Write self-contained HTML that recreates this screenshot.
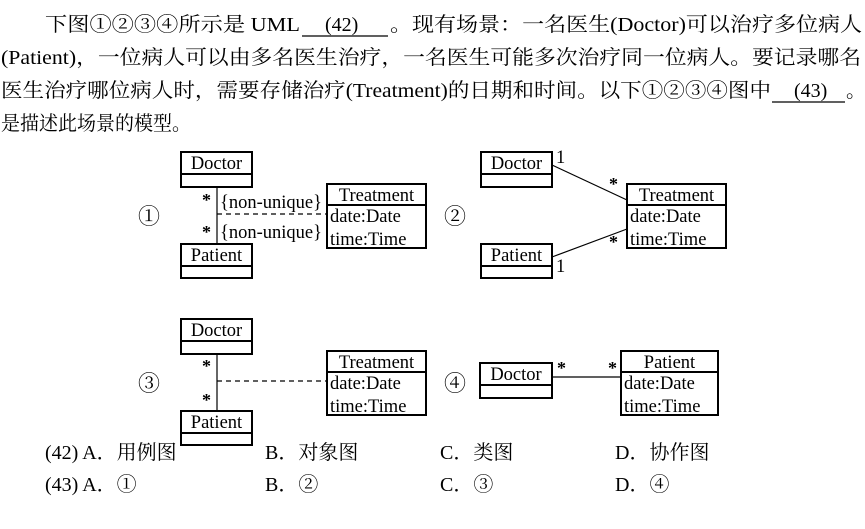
<!DOCTYPE html>
<html><head><meta charset="utf-8"><style>
html,body{margin:0;padding:0;background:#fff;}
svg{display:block;}
.t{font-family:"Liberation Serif","Noto Serif CJK SC",serif;font-size:20px;fill:#000;}
.d{font-family:"Liberation Serif","Noto Serif CJK SC",serif;font-size:18.5px;fill:#000;}
.s{font-weight:bold;font-size:18px;}
.c{font-size:22px;}
</style></head><body>
<svg width="865" height="529" viewBox="0 0 865 529" xmlns="http://www.w3.org/2000/svg">
<g class="t">
<text x="45" y="31" textLength="255" lengthAdjust="spacingAndGlyphs">下图①②③④所示是 UML</text>
<text x="325" y="31">(42)</text>
<text x="390" y="31" textLength="472" lengthAdjust="spacingAndGlyphs">。现有场景：一名医生(Doctor)可以治疗多位病人</text>
<text x="1" y="64" textLength="860" lengthAdjust="spacingAndGlyphs">(Patient)，一位病人可以由多名医生治疗，一名医生可能多次治疗同一位病人。要记录哪名</text>
<text x="1" y="97" textLength="770" lengthAdjust="spacingAndGlyphs">医生治疗哪位病人时，需要存储治疗(Treatment)的日期和时间。以下①②③④图中</text>
<text x="794" y="97">(43)</text>
<text x="846" y="97">。</text>
<text x="1" y="130" textLength="190" lengthAdjust="spacingAndGlyphs">是描述此场景的模型。</text>
<text x="45" y="459">(42) A．用例图</text>
<text x="265" y="459">B．对象图</text>
<text x="440" y="459">C．类图</text>
<text x="615" y="459">D．协作图</text>
<text x="45" y="491">(43) A．①</text>
<text x="265" y="491">B．②</text>
<text x="440" y="491">C．③</text>
<text x="615" y="491">D．④</text>
</g>
<g stroke="#000" stroke-width="1.3">
<line x1="302" y1="36" x2="388" y2="36"/>
<line x1="772" y1="102" x2="845" y2="102"/>
</g>
<g fill="none" stroke="#000" stroke-width="2">
<rect x="181" y="152" width="71" height="35"/><line x1="181" y1="174" x2="252" y2="174"/>
<rect x="181" y="244" width="71" height="34"/><line x1="181" y1="266" x2="252" y2="266"/>
<rect x="327" y="184" width="99" height="64"/><line x1="327" y1="205" x2="426" y2="205"/>
<rect x="481" y="152" width="71" height="35"/><line x1="481" y1="174" x2="552" y2="174"/>
<rect x="481" y="244" width="71" height="34"/><line x1="481" y1="266" x2="552" y2="266"/>
<rect x="627" y="184" width="99" height="64"/><line x1="627" y1="205" x2="726" y2="205"/>
<rect x="181" y="319" width="71" height="35"/><line x1="181" y1="341" x2="252" y2="341"/>
<rect x="181" y="411" width="71" height="34"/><line x1="181" y1="433" x2="252" y2="433"/>
<rect x="327" y="351" width="99" height="64"/><line x1="327" y1="372" x2="426" y2="372"/>
<rect x="480" y="363" width="72" height="35"/><line x1="480" y1="385" x2="552" y2="385"/>
<rect x="621" y="351" width="97" height="64"/><line x1="621" y1="372" x2="718" y2="372"/>
</g>
<g stroke="#000" stroke-width="1.2" fill="none">
<line x1="217" y1="187" x2="217" y2="244"/>
<line x1="217" y1="214" x2="327" y2="214" stroke-dasharray="5,4"/>
<line x1="552" y1="165" x2="627" y2="200"/>
<line x1="552" y1="257" x2="627" y2="229"/>
<line x1="217" y1="354" x2="217" y2="411"/>
<line x1="217" y1="381" x2="327" y2="381" stroke-dasharray="5,4"/>
<line x1="552" y1="377" x2="621" y2="377"/>
</g>
<g class="d">
<text x="216.5" y="169" text-anchor="middle">Doctor</text>
<text x="216.5" y="261" text-anchor="middle">Patient</text>
<text x="376.5" y="201" text-anchor="middle">Treatment</text>
<text x="330" y="222">date:Date</text>
<text x="330" y="245">time:Time</text>
<text class="s" x="202" y="206">*</text><text class="s" x="202" y="238">*</text>
<text x="220" y="208">{non-unique}</text>
<text x="220" y="238">{non-unique}</text>
<text class="c" x="138" y="224">①</text>

<text x="516.5" y="169" text-anchor="middle">Doctor</text>
<text x="516.5" y="261" text-anchor="middle">Patient</text>
<text x="676.5" y="201" text-anchor="middle">Treatment</text>
<text x="630" y="222">date:Date</text>
<text x="630" y="245">time:Time</text>
<text x="556" y="163">1</text><text x="556" y="272">1</text>
<text class="s" x="609" y="190">*</text><text class="s" x="609" y="248">*</text>
<text class="c" x="444" y="224">②</text>

<text x="216.5" y="336" text-anchor="middle">Doctor</text>
<text x="216.5" y="428" text-anchor="middle">Patient</text>
<text x="376.5" y="368" text-anchor="middle">Treatment</text>
<text x="330" y="389">date:Date</text>
<text x="330" y="412">time:Time</text>
<text class="s" x="202" y="372">*</text><text class="s" x="202" y="406">*</text>
<text class="c" x="138" y="391">③</text>

<text x="516" y="380" text-anchor="middle">Doctor</text>
<text x="669.5" y="368" text-anchor="middle">Patient</text>
<text x="624" y="389">date:Date</text>
<text x="624" y="412">time:Time</text>
<text class="s" x="557" y="374">*</text><text class="s" x="608" y="374">*</text>
<text class="c" x="444" y="391">④</text>
</g>
</svg>
</body></html>
